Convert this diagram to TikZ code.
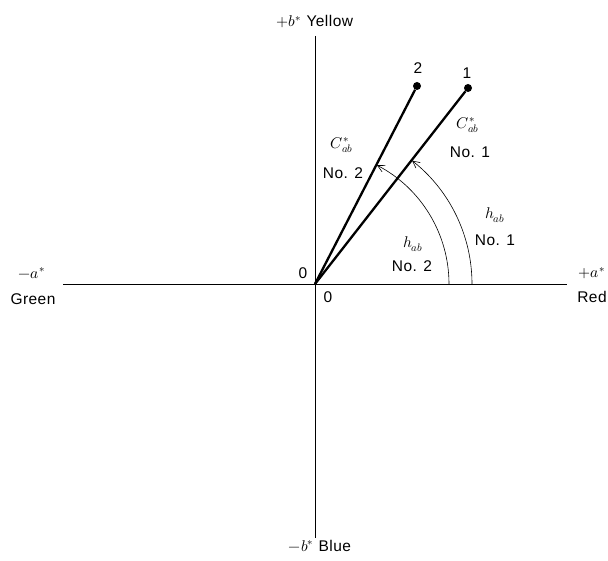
\documentclass[tikz,border=0pt]{standalone}
\usepackage{fontspec}
\usepackage{unicode-math}
\setmainfont{Liberation Sans}[LetterSpace=3]
\setmathfont{Latin Modern Math}
\usetikzlibrary{arrows.meta}
\begin{document}
\begin{tikzpicture}[x=1pt,y=-1pt,
  axis/.style={line width=0.8pt},
  vec/.style={line width=2.3pt},
  hue/.style={line width=0.6pt,-{Straight Barb[length=7pt,width=7pt]}},
  lbl/.style={font=\fontsize{15.5}{18}\selectfont, inner sep=0pt},
  dot/.style={circle, fill, inner sep=0pt, minimum size=8pt}]
\useasboundingbox (0,0) rectangle (608,561);
% axes
\coordinate (O) at (315,284);
\coordinate (ytop) at (315,36);
\coordinate (ybot) at (315,538);
\coordinate (xl) at (63,284);
\coordinate (xr) at (567,284);
\draw[axis] (ytop) -- (ybot);
\draw[axis] (xl) -- (xr);
% axis labels
\node[lbl] (yel) at (315,22) {$+b^*$ Yellow};
\node[lbl] (blu) at (320,546) {$-b^*$ Blue};
\node[lbl] (ma) at (32,273) {$-a^*$};
\node[lbl] (grn) at (33,299) {Green};
\node[lbl] (pa) at (592,273) {$+a^*$};
\node[lbl] (red) at (592,297) {Red};
\node[lbl] (z1) at (303,273) {0};
\node[lbl] (z2) at (328,297) {0};
% points
\node[dot] (d2) at (417,86) {};
\node[dot] (d1) at (468,88) {};
\node[lbl] (n2) at (418,68) {2};
\node[lbl] (n1) at (467,73) {1};
\draw[vec] (O) -- (d2);
\draw[vec] (O) -- (d1);
% hue arcs
\draw[hue] (O) ++(134,0) arc[start angle=0, end angle=-62.5, radius=134];
\draw[hue] (O) ++(157,0) arc[start angle=0, end angle=-51.8, radius=157];
% labels
\node[lbl] (c2) at (342,145) {$C^*_{ab}$};
\node[lbl] (c2n) at (343,173) {No. 2};
\node[lbl] (c1) at (468,125) {$C^*_{ab}$};
\node[lbl] (c1n) at (470,152) {No. 1};
\node[lbl] (h2) at (413,244) {$h_{ab}$};
\node[lbl] (h2n) at (412,266) {No. 2};
\node[lbl] (h1) at (495,215) {$h_{ab}$};
\node[lbl] (h1n) at (495,240) {No. 1};
\end{tikzpicture}
\end{document}
